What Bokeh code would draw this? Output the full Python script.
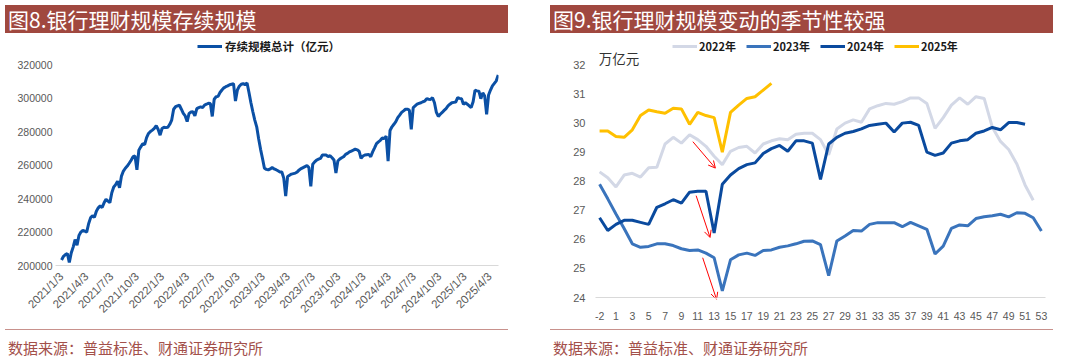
import math
from datetime import datetime
import pandas as pd
from bokeh.plotting import figure
from bokeh.layouts import row, column
from bokeh.models import (Range1d, FixedTicker, Legend, LegendItem, Label,
                          Arrow, OpenHead, ColumnDataSource, Div, Spacer)
from bokeh.embed import file_html
from bokeh.resources import INLINE

# ---------------- texts ----------------
left_title = "图8.银行理财规模存续规模"
right_title = "图9.银行理财规模变动的季节性较强"
source_text = "数据来源：普益标准、财通证券研究所"
left_series_name = "存续规模总计（亿元）"
right_unit = "万亿元"

# ---------------- left chart data (weekly, 亿元) ----------------
left_start = "2021-01-03"
left_values = [
    203300, 205500, 206500, 207200, 201800, 207500, 211000, 215500, 212100, 218000,
    220000, 221000, 220500, 220000, 225000, 228500, 229800, 228800, 232500, 234500,
    235700, 234700, 237500, 239600, 238500, 237600, 243500, 247000, 248400, 250400,
    246500, 253500, 256500, 258200, 259500, 261200, 263000, 265100, 265500, 257200,
    269000, 271000, 272900, 272300, 276500, 279000, 280200, 281000, 282000, 283700,
    281400, 278000, 282000, 282700, 282500, 282700, 284500, 287000, 293500, 295000,
    295500, 295900, 293500, 291000, 289500, 286100, 291000, 291800, 292000, 289600,
    293900, 294500, 294900, 294500, 296000, 296500, 297100, 297000, 289200, 299500,
    301000, 301200, 303500, 305000, 306300, 307000, 307500, 308200, 308500, 308800,
    298400, 305000, 307300, 308500, 308800, 308200, 309200, 303500, 297400, 292000,
    287000, 283000, 275900, 269500, 264000, 258200, 257500, 257200, 257800, 258600,
    257800, 257300, 256700, 256000, 255900, 252300, 241600, 253300, 254000, 254700,
    255000, 255300, 256000, 257200, 258000, 258600, 259200, 259800, 258600, 247400,
    260600, 262000, 263100, 263600, 264100, 266100, 266100, 266100, 265100, 265700,
    264500, 263100, 255300, 262500, 263700, 264500, 265100, 266500, 267100, 268000,
    268500, 269000, 269600, 269200, 268400, 264100, 265500, 266100, 266300, 266500,
    265100, 268000, 270400, 272900, 274000, 274900, 276300, 275900, 277400, 262500,
    280800, 283000, 284500, 286100, 288500, 290000, 291600, 292500, 293500, 293500,
    293000, 281400, 294500, 295500, 296500, 297000, 297400, 298000, 298400, 299800,
    299500, 299400, 300400, 297400, 291600, 289200, 290500, 291600, 292800, 293900,
    295500, 296500, 297400, 297600, 297800, 300400, 300000, 299800, 296500, 297400,
    296500, 295500, 294500, 298000, 304900, 304500, 304300, 299800, 303300, 301400,
    290500, 302000, 305000, 307500, 309000, 310500, 314000,
]
left_tick_labels = ["2021/1/3", "2021/4/3", "2021/7/3", "2021/10/3",
                    "2022/1/3", "2022/4/3", "2022/7/3", "2022/10/3",
                    "2023/1/3", "2023/4/3", "2023/7/3", "2023/10/3",
                    "2024/1/3", "2024/4/3", "2024/7/3", "2024/10/3",
                    "2025/1/3", "2025/4/3"]
left_yticks = [200000, 220000, 240000, 260000, 280000, 300000, 320000]

# ---------------- right chart data (万亿元) ----------------
weeks = [-2, -1] + list(range(1, 54))
y2022 = [28.33, 28.13, 27.81, 28.22, 28.28, 28.15, 28.47, 28.49, 29.29, 29.52,
         29.32, 29.61, 29.44, 29.21, 28.87, 28.58, 29.04, 29.17, 29.21, 28.98,
         29.29, 29.40, 29.47, 29.44, 29.63, 29.66, 29.66, 29.44, 28.92, 29.81,
         30.01, 30.12, 30.04, 30.50, 30.61, 30.69, 30.66, 30.75, 30.88, 30.88,
         30.69, 29.83, 30.20, 30.63, 30.88, 30.66, 30.92, 30.86, 29.87, 29.38,
         29.10, 28.60, 27.88, 27.35, None]
y2023 = [27.90, 27.40, 26.88, 26.38, 25.85, 25.73, 25.76, 25.85, 25.85, 25.79,
         25.68, 25.62, 25.64, 25.53, 25.37, 24.23, 25.30, 25.47, 25.53, 25.45,
         25.62, 25.64, 25.73, 25.78, 25.85, 25.94, 25.95, 25.82, 24.75, 25.95,
         26.12, 26.31, 26.29, 26.52, 26.58, 26.58, 26.58, 26.44, 26.59, 26.47,
         26.35, 25.50, 25.77, 26.38, 26.50, 26.47, 26.72, 26.78, 26.82, 26.87,
         26.78, 26.92, 26.90, 26.75, 26.29]
y2024 = [26.75, 26.31, 26.52, 26.66, 26.66, 26.59, 26.52, 27.11, 27.23, 27.37,
         27.25, 27.63, 27.66, 27.66, 26.22, 27.90, 28.22, 28.44, 28.58, 28.64,
         28.96, 29.13, 29.24, 29.04, 29.40, 29.40, 29.32, 28.07, 29.29, 29.52,
         29.66, 29.72, 29.81, 29.93, 29.97, 30.01, 29.70, 30.01, 30.04, 29.93,
         29.01, 28.90, 28.98, 29.32, 29.40, 29.44, 29.66, 29.74, 29.86, 29.78,
         30.03, 30.03, 29.97, None, None]
y2025 = [29.74, 29.74, 29.55, 29.52, 29.78, 30.27, 30.46, 30.40, 30.35, 30.52,
         30.50, 29.97, 30.38, 30.27, 30.20, 29.01, 30.38, 30.63, 30.86, 30.92,
         31.15, 31.38] + [None] * 33
series_names = ["2022年", "2023年", "2024年", "2025年"]
right_yticks = [24, 25, 26, 27, 28, 29, 30, 31, 32]
# red arrows (x in week-category index, y in 万亿元): start -> end
arrows = [((11.4, 29.37), (14.15, 28.46)),
          ((11.8, 27.51), (13.5, 26.07)),
          ((12.6, 25.37), (14.3, 23.93))]

# ---------------- style ----------------
HDR = "#A0483F"
SRC = "#A3504A"
RULE = "#C8918C"
AX = "#D9D9D9"
TXT = "#595959"
LINE_L = "#0B50A5"
COLORS = ["#D3D8E6", "#3A74BC", "#0A4A9E", "#FFC000"]
CJK = "Noto Sans CJK SC"
LAT = "Liberation Sans"
PANEL_W = 503


def header(title, w):
    html = ('<div style="background:%s;color:#ffffff;font-family:\'%s\';font-size:21px;'
            'line-height:28px;height:28px;width:%dpx;padding-left:3px;box-sizing:border-box;'
            'white-space:nowrap;overflow:hidden;">%s</div>' % (HDR, CJK, w, title))
    return Div(text=html, width=w, height=28, margin=0)


def footer(w):
    html = ('<div style="margin-top:7px;border-top:1.5px solid %s;width:%dpx;height:30px;'
            'padding-top:10px;padding-left:3px;box-sizing:border-box;color:%s;'
            'font-family:\'%s\';font-size:15px;line-height:16px;white-space:nowrap;">%s</div>'
            % (RULE, w, SRC, CJK, source_text))
    return Div(text=html, width=w, height=39, margin=0)


# ---------------- left chart ----------------
base = pd.Timestamp(left_start)
dates = pd.date_range(left_start, periods=len(left_values), freq="7D")
xl = [(d - base).days for d in dates]
src_l = ColumnDataSource(dict(x=xl, y=left_values))
tick_days = [(pd.Timestamp(datetime.strptime(s, "%Y/%m/%d")) - base).days for s in left_tick_labels]

LTOP = 320000 + 32 * (120000 / 204)
pl = figure(width=PANEL_W, height=289, output_backend="svg", toolbar_location=None,
            x_range=Range1d(-22, 1583), y_range=Range1d(200000, LTOP),
            min_border_left=50, min_border_right=10, min_border_top=0, min_border_bottom=53)
pl.outline_line_color = None
pl.grid.visible = False
rl = pl.line("x", "y", source=src_l, line_color=LINE_L, line_width=3)

pl.xaxis.ticker = FixedTicker(ticks=tick_days)
pl.xaxis.major_label_overrides = {d: s for d, s in zip(tick_days, left_tick_labels)}
pl.xaxis.major_label_orientation = math.pi / 4
pl.xaxis.axis_line_color = AX
pl.xaxis.major_tick_line_color = None
pl.xaxis.minor_tick_line_color = None
pl.xaxis.major_label_standoff = 3
pl.xaxis.major_label_text_font = LAT
pl.xaxis.major_label_text_font_size = "11.5px"
pl.xaxis.major_label_text_color = TXT

pl.yaxis.ticker = FixedTicker(ticks=left_yticks)
pl.yaxis.major_label_overrides = {v: str(v) for v in left_yticks}
pl.yaxis.axis_line_color = None
pl.yaxis.major_tick_line_color = None
pl.yaxis.minor_tick_line_color = None
pl.yaxis.major_label_standoff = -3
pl.yaxis.major_label_text_font = LAT
pl.yaxis.major_label_text_font_size = "10.5px"
pl.yaxis.major_label_text_color = TXT

leg_l = Legend(items=[LegendItem(label=left_series_name, renderers=[rl])],
               location=(142, 211), orientation="horizontal",
               glyph_width=25, glyph_height=14, label_height=14, label_standoff=3,
               padding=0, margin=0, border_line_color=None, background_fill_alpha=0,
               label_text_font=CJK, label_text_font_size="11.5px",
               label_text_font_style="bold", label_text_color="#1a1a1a")
pl.add_layout(leg_l, "center")

# ---------------- right chart ----------------
xi = list(range(len(weeks)))
RTOP = 24 + 265 / (233 / 8)
pr = figure(width=PANEL_W, height=289, output_backend="svg", toolbar_location=None,
            x_range=Range1d(-0.5, len(weeks) - 0.5), y_range=Range1d(24, RTOP),
            min_border_left=45, min_border_right=8, min_border_top=0, min_border_bottom=24)
pr.outline_line_color = None
pr.grid.visible = False

renderers = []
for name, ys, col in zip(series_names, [y2022, y2023, y2024, y2025], COLORS):
    xs = [x for x, y in zip(xi, ys) if y is not None]
    yv = [y for y in ys if y is not None]
    r = pr.line(xs, yv, line_color=col, line_width=3)
    renderers.append(r)

for (xs0, ys0), (xe, ye) in arrows:
    pr.add_layout(Arrow(end=OpenHead(size=7, line_color="#FF0000", line_width=1),
                        x_start=xs0, y_start=ys0, x_end=xe, y_end=ye,
                        line_color="#FF0000", line_width=1))

xticks = xi[0::2]
pr.xaxis.ticker = FixedTicker(ticks=xticks)
pr.xaxis.major_label_overrides = {i: str(weeks[i]) for i in xticks}
pr.xaxis.axis_line_color = AX
pr.xaxis.major_tick_line_color = None
pr.xaxis.minor_tick_line_color = None
pr.xaxis.major_label_standoff = 8
pr.xaxis.major_label_text_font = LAT
pr.xaxis.major_label_text_font_size = "10.5px"
pr.xaxis.major_label_text_color = TXT

pr.yaxis.ticker = FixedTicker(ticks=right_yticks)
pr.yaxis.axis_line_color = None
pr.yaxis.major_tick_line_color = None
pr.yaxis.minor_tick_line_color = None
pr.yaxis.major_label_standoff = 4
pr.yaxis.major_label_text_font = LAT
pr.yaxis.major_label_text_font_size = "11px"
pr.yaxis.major_label_text_color = TXT

pr.add_layout(Label(x=-0.1, y=32.27, text=right_unit, text_font=CJK,
                    text_font_size="13.5px", text_color="#333333",
                    text_baseline="middle", text_align="left"))

leg_r = Legend(items=[LegendItem(label=n, renderers=[r]) for n, r in zip(series_names, renderers)],
               location=(77, 243), orientation="horizontal",
               glyph_width=25, glyph_height=14, label_height=14, label_standoff=2,
               spacing=10, padding=0, margin=0, border_line_color=None,
               background_fill_alpha=0, label_text_font=CJK, label_text_font_size="11px",
               label_text_font_style="bold", label_text_color="#1a1a1a")
pr.add_layout(leg_r, "center")

left_col = column(header(left_title, PANEL_W), pl, footer(PANEL_W), spacing=0)
right_col = column(header(right_title, PANEL_W), pr, footer(PANEL_W), spacing=0)
layout = column(Spacer(width=1053, height=5),
                row(Spacer(width=5, height=10), left_col, Spacer(width=42, height=10), right_col,
                    spacing=0),
                spacing=0)

open("out.html", "w").write(file_html(layout, INLINE))
